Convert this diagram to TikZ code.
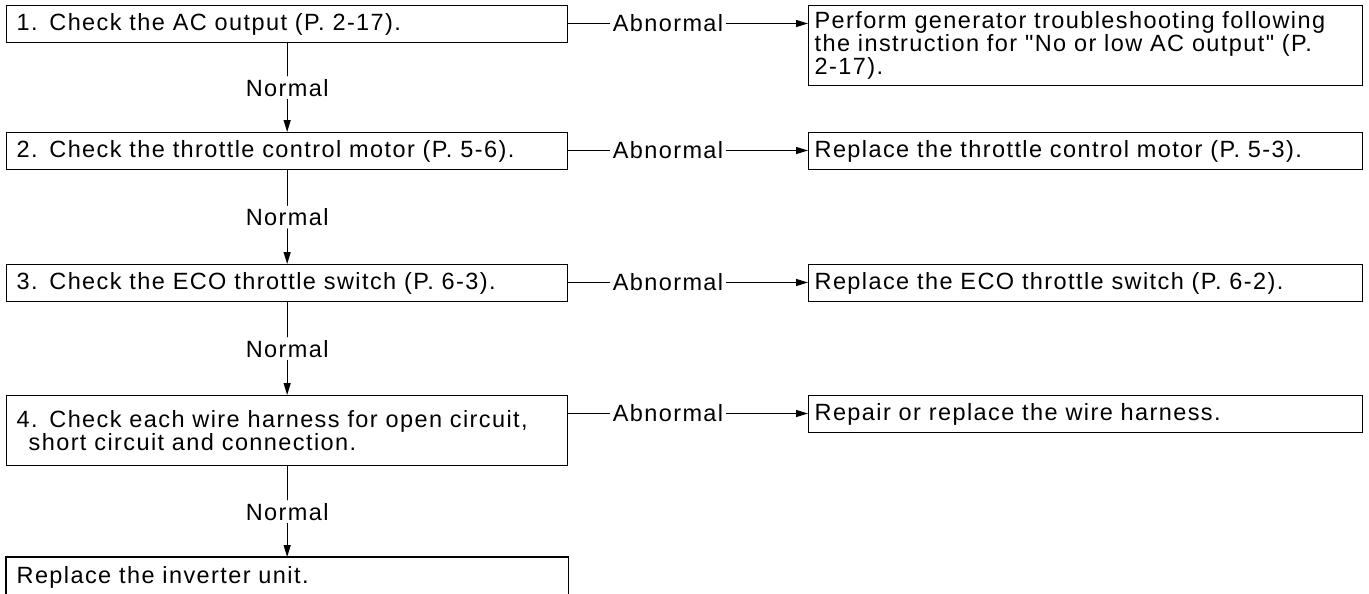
\documentclass[tikz,border=0pt]{standalone}
\usepackage{fontspec}
\setmainfont{Liberation Sans}[LetterSpace=6,WordSpace=1.3,Ligatures=TeXOff]
\usetikzlibrary{arrows.meta,calc}

\begin{document}
\begin{tikzpicture}[x=1pt,y=-1pt,line cap=round,
    font=\fontsize{23.5}{21.6}\selectfont,
    >={Triangle[length=12pt,width=7pt]},
    chk/.style={draw,line width=1.3pt,anchor=north west,minimum height=37pt,
      inner xsep=10pt,inner ysep=0pt,text width=541pt,align=left},
    fix/.style={chk,inner xsep=6pt,text width=542pt},
    lbl/.style={inner sep=3pt},
    wire/.style={line width=1.1pt}]
  \useasboundingbox (0,0) rectangle (1369,594);
  % left: the checks, top to bottom
  \node[chk] (s1) at (6,5) {1. Check the AC output (P. 2-17).};
  \node[chk] (s2) at (6,132) {2. Check the throttle control motor (P. 5-6).};
  \node[chk] (s3) at (6,264) {3. Check the ECO throttle switch (P. 6-3).};
  \node[chk,minimum height=70pt] (s4) at (6,395)
    {\makebox[539pt][s]{4. Check each wire harness for open circuit,}\\
     \hspace*{12pt}short circuit and connection.};
  \node[chk,draw=none,minimum height=40pt] (fin) at (6,557) {Replace the inverter unit.};
  \draw[line width=1.3pt] (fin.south west) -- (fin.north west) -- (fin.north east) -- (fin.south east);
  % right: what to do when abnormal
  \node[fix,minimum height=80pt] (r1) at (808,5)
    {\makebox[542pt][s]{Perform generator troubleshooting following}\\
     \makebox[542pt][s]{the instruction for "No or low AC output" (P.}\\
     2-17).};
  \node[fix] (r2) at (808,132) {Replace the throttle control motor (P. 5-3).};
  \node[fix] (r3) at (808,264) {Replace the ECO throttle switch (P. 6-2).};
  \node[fix] (r4) at (808,395) {Repair or replace the wire harness.};
  % normal branch
  \foreach \a/\b [count=\i] in {s1/s2,s2/s3,s3/s4,s4/fin} {
    \node[lbl] (n\i) at ($(\a.south)!0.5!(\b.north)$) {Normal};
    \draw[wire] (\a.south) -- (n\i.north);
    \draw[wire,->] (n\i.south) -- (\b.north);
  }
  % abnormal branch
  \foreach \i/\y in {1/23.5,2/150.5,3/282.5,4/413.5} {
    \node[lbl] (a\i) at (668,\y) {Abnormal};
    \draw[wire] (s\i.east |- a\i) -- (a\i.west);
    \draw[wire,->] (a\i.east) -- (r\i.west |- a\i);
  }
\end{tikzpicture}
\end{document}
